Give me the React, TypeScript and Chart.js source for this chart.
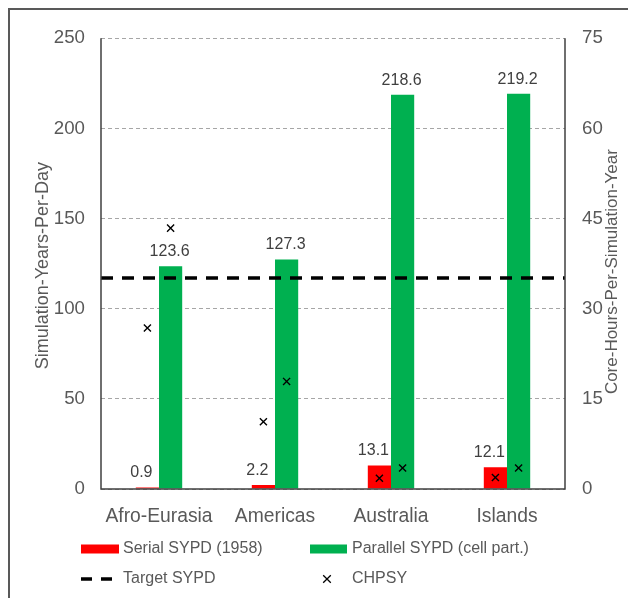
import React, { useEffect, useRef } from "react";
import { Chart, registerables } from "chart.js";
Chart.register(...registerables);

const categories = ["Afro-Eurasia", "Americas", "Australia", "Islands"];
const serialSYPD = [0.9, 2.2, 13.1, 12.1];
const parallelSYPD = [123.6, 127.3, 218.6, 219.2];
const targetSYPD = 117;
const chpsySerial = [26.8, 11.2, 1.8, 1.9];
const chpsyParallel = [43.4, 17.9, 3.5, 3.5];
const leftTicks = { min: 0, max: 250, step: 50 };
const rightTicks = { min: 0, max: 75, step: 15 };
const seriesNames = ["Serial SYPD (1958)", "Parallel SYPD (cell part.)", "Target SYPD", "CHPSY"];
const yTitle = "Simulation-Years-Per-Day";
const y2Title = "Core-Hours-Per-Simulation-Year";

const FONT = "'Liberation Sans', Arial, sans-serif";
const RED = "#FF0000";
const GREEN = "#00B050";
const TEXT = "#595959";
const LABEL = "#404040";
const FRAME = "#404040";
const CAT_PCT = 0.4;
const SLOT = CAT_PCT / 2;

const overlay = {
  id: "overlay",
  afterDatasetsDraw(chart: any) {
    const ctx = chart.ctx;
    const a = chart.chartArea;
    ctx.save();
    ctx.strokeStyle = FRAME;
    ctx.lineWidth = 1.5;
    ctx.setLineDash([]);
    ctx.beginPath();
    ctx.moveTo(a.left, a.top);
    ctx.lineTo(a.left, a.bottom);
    ctx.lineTo(a.right, a.bottom);
    ctx.lineTo(a.right, a.top);
    ctx.stroke();
    ctx.font = `16px ${FONT}`;
    ctx.fillStyle = LABEL;
    ctx.textAlign = "center";
    ctx.textBaseline = "alphabetic";
    [0, 1].forEach((di) => {
      const meta = chart.getDatasetMeta(di);
      const shift = di === 0 ? -6 : -1;
      meta.data.forEach((el: any, i: number) => {
        const v = (chart.data.datasets[di].data[i] as any).y as number;
        ctx.fillText(v.toFixed(1), el.x + shift, el.y - 10);
      });
    });
    ctx.restore();
  },
  afterDraw(chart: any) {
    const ctx = chart.ctx;
    const a = chart.chartArea;
    const cy = (a.top + a.bottom) / 2;
    ctx.save();
    ctx.fillStyle = TEXT;
    ctx.textAlign = "center";
    ctx.textBaseline = "middle";
    ctx.save();
    ctx.font = `18px ${FONT}`;
    ctx.translate(33, cy + 2);
    ctx.rotate(-Math.PI / 2);
    ctx.fillText(yTitle, 0, 0);
    ctx.restore();
    ctx.save();
    ctx.font = `17px ${FONT}`;
    ctx.translate(602, cy + 8);
    ctx.rotate(-Math.PI / 2);
    ctx.fillText(y2Title, 0, 0);
    ctx.restore();

    // legend
    const r1 = a.bottom + 60;
    const r2 = a.bottom + 90;
    const c1 = a.left - 20;
    const c2 = a.left + 209;
    ctx.font = `16px ${FONT}`;
    ctx.textAlign = "left";
    ctx.fillStyle = RED;
    ctx.fillRect(c1, r1 - 4.5, 38, 9);
    ctx.fillStyle = GREEN;
    ctx.fillRect(c2, r1 - 4.5, 37, 9);
    ctx.strokeStyle = "#000";
    ctx.lineWidth = 3.5;
    ctx.setLineDash([11, 9]);
    ctx.beginPath();
    ctx.moveTo(c1, r2);
    ctx.lineTo(c1 + 32, r2);
    ctx.stroke();
    ctx.setLineDash([]);
    ctx.lineWidth = 1.3;
    const xc = c2 + 17;
    const s = 3.8;
    ctx.beginPath();
    ctx.moveTo(xc - s, r2 - s);
    ctx.lineTo(xc + s, r2 + s);
    ctx.moveTo(xc + s, r2 - s);
    ctx.lineTo(xc - s, r2 + s);
    ctx.stroke();
    ctx.fillStyle = TEXT;
    ctx.fillText(seriesNames[0], c1 + 42, r1);
    ctx.fillText(seriesNames[1], c2 + 42, r1);
    ctx.fillText(seriesNames[2], c1 + 42, r2);
    ctx.fillText(seriesNames[3], c2 + 42, r2);
    ctx.restore();
  },
};

export default function App() {
  const ref = useRef<HTMLCanvasElement>(null);
  useEffect(() => {
    document.documentElement.style.overflow = "hidden";
    document.body.style.overflow = "hidden";
    if (!ref.current) return;
    const n = categories.length;
    const crossDs = (vals: number[], off: number) => ({
      type: "line",
      label: seriesNames[3],
      data: vals.map((v, i) => ({ x: i + off, y: v })),
      showLine: false,
      pointStyle: "crossRot",
      pointRadius: 5,
      pointHoverRadius: 5,
      borderColor: "#000",
      backgroundColor: "#000",
      pointBorderWidth: 1.4,
      xAxisID: "x",
      yAxisID: "y2",
      order: 1,
    });
    const chart = new Chart(ref.current, {
      type: "bar",
      data: {
        datasets: [
          {
            label: seriesNames[0],
            data: serialSYPD.map((v, i) => ({ x: i, y: v })),
            backgroundColor: RED,
            borderWidth: 0,
            xAxisID: "x",
            yAxisID: "y",
            order: 3,
          },
          {
            label: seriesNames[1],
            data: parallelSYPD.map((v, i) => ({ x: i, y: v })),
            backgroundColor: GREEN,
            borderWidth: 0,
            xAxisID: "x",
            yAxisID: "y",
            order: 3,
          },
          {
            type: "line",
            label: seriesNames[2],
            data: [
              { x: -0.5, y: targetSYPD },
              { x: n - 0.5, y: targetSYPD },
            ],
            borderColor: "#000",
            borderWidth: 3.5,
            borderDash: [12, 9],
            pointRadius: 0,
            xAxisID: "x",
            yAxisID: "y",
            order: 2,
          },
          crossDs(chpsySerial, -SLOT / 2),
          crossDs(chpsyParallel, SLOT / 2),
        ] as any,
      },
      options: {
        responsive: false,
        animation: false,
        layout: { padding: { top: 17, left: 0, right: 0, bottom: 0 } },
        datasets: { bar: { barPercentage: 1, categoryPercentage: CAT_PCT } },
        plugins: { legend: { display: false }, tooltip: { enabled: false } },
        scales: {
          x: {
            type: "linear",
            min: -0.5,
            max: n - 0.5,
            offset: false,
            grid: { display: false },
            border: { display: false },
            afterBuildTicks: (s: any) => {
              s.ticks = categories.map((_, i) => ({ value: i }));
            },
            ticks: {
              color: TEXT,
              font: { family: FONT, size: 19.3 },
              padding: 8,
              maxRotation: 0,
              autoSkip: false,
              callback: (v: any) => categories[v] ?? "",
            },
            afterFit: (s: any) => {
              s.height = 109;
            },
          },
          y: {
            position: "left",
            min: leftTicks.min,
            max: leftTicks.max,
            grid: { color: "#A6A6A6", lineWidth: 1, drawTicks: false },
            border: { display: false, dash: [4, 3] },
            ticks: { stepSize: leftTicks.step, color: TEXT, font: { family: FONT, size: 18.7 }, padding: 16 },
            afterFit: (s: any) => {
              s.width = 91;
            },
          },
          y2: {
            position: "right",
            min: rightTicks.min,
            max: rightTicks.max,
            grid: { display: false, drawTicks: false },
            border: { display: false },
            ticks: { stepSize: rightTicks.step, color: TEXT, font: { family: FONT, size: 18.7 }, padding: 17 },
            afterFit: (s: any) => {
              s.width = 71;
            },
          },
        },
      } as any,
      plugins: [overlay],
    });
    return () => chart.destroy();
  }, []);
  return (
    <div
      style={{
        width: 628,
        height: 590,
        boxSizing: "border-box",
        borderTop: "2px solid #595959",
        borderLeft: "2px solid #595959",
      }}
    >
      <canvas ref={ref} width={626} height={588} style={{ display: "block" }} />
    </div>
  );
}
